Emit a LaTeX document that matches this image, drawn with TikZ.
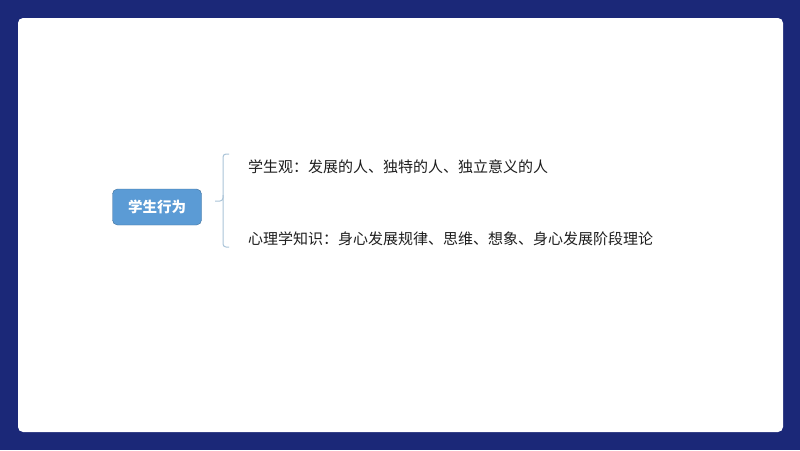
\documentclass[tikz,border=0pt]{standalone}
\usepackage{fontspec}
\setmainfont{Noto Sans CJK SC}
\usetikzlibrary{positioning}
\definecolor{navy}{RGB}{27,40,120}
\definecolor{topicblue}{RGB}{91,155,213}
\definecolor{topicedge}{RGB}{65,113,156}
\definecolor{bracegray}{RGB}{170,196,216}
\definecolor{textdark}{RGB}{30,30,30}

\begin{document}
\begin{tikzpicture}[
    x=1pt,
    y=-1pt,
    topic node/.style={draw=topicedge,fill=topicblue,rounded corners=5pt,
      minimum width=89pt,minimum height=36pt,text=white,
      font=\fontsize{14.5pt}{16pt}\selectfont\bfseries},
    leaf node/.style={anchor=west,inner sep=0pt,text=textdark,
      font=\fontsize{15pt}{17pt}\selectfont},
    brace line/.style={draw=bracegray,line width=1pt,rounded corners=3pt}
    ]

    % background and card
    \useasboundingbox (0,0) rectangle (800,450);
    \fill[navy] (0,0) rectangle (800,450);
    \fill[white,rounded corners=5pt] (18,18) rectangle (783,432);

    \node[topic node] (behavior) at (157,207) {学生行为};
    \node[leaf node] (view) at (248,167) {学生观：发展的人、独特的人、独立意义的人};
    \node[leaf node] (psych) at (248,239) {心理学知识：身心发展规律、思维、想象、身心发展阶段理论};

    \coordinate (stem) at (215,201);
    \coordinate (top) at (229,154);
    \coordinate (bottom) at (229,247);

    % brace
    \draw[brace line] (top) -- (223,154) -- (223,201) -- (stem);
    \draw[brace line] (223,195) -- (223,247) -- (bottom);
\end{tikzpicture}
\end{document}
